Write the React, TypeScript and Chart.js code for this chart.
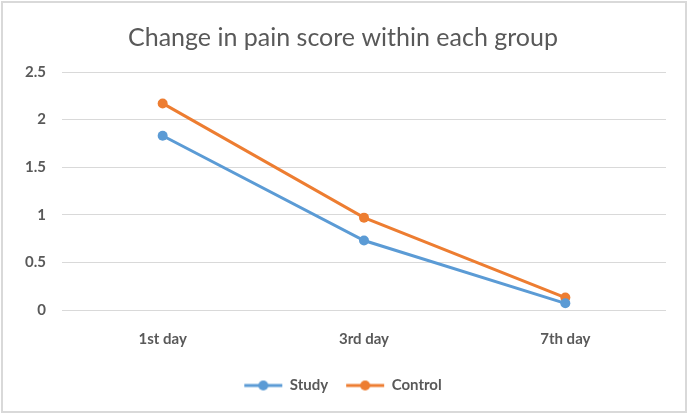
import React, { useEffect, useRef } from "react";
import { Chart, registerables } from "chart.js";

Chart.register(...registerables);

const categories = ["1st day", "3rd day", "7th day"];
const studyValues = [1.83, 0.73, 0.07];
const controlValues = [2.17, 0.97, 0.13];
const seriesNames = ["Study", "Control"];
const seriesColors = ["#5B9BD5", "#ED7D31"];
const titleText = "Change in pain score within each group";

const FONT = "Lato, 'Liberation Sans', sans-serif";
const TEXT = "#595959";

function legendIcon(color: string): HTMLCanvasElement {
  const c = document.createElement("canvas");
  c.width = 40;
  c.height = 12;
  const ctx = c.getContext("2d")!;
  ctx.strokeStyle = color;
  ctx.lineWidth = 3;
  ctx.beginPath();
  ctx.moveTo(1, 6);
  ctx.lineTo(39, 6);
  ctx.stroke();
  ctx.fillStyle = color;
  ctx.beginPath();
  ctx.arc(20, 6, 5, 0, Math.PI * 2);
  ctx.fill();
  return c;
}

const borderPlugin = {
  id: "outerBorder",
  afterDraw(chart: any) {
    const ctx = chart.ctx;
    ctx.save();
    ctx.strokeStyle = "#d9d9d9";
    ctx.lineWidth = 2;
    ctx.strokeRect(2, 2, chart.width - 4, chart.height - 5);
    ctx.restore();
  },
};

export default function App() {
  const ref = useRef<HTMLCanvasElement | null>(null);
  useEffect(() => {
    document.body.style.margin = "0";
    const icons = seriesColors.map(legendIcon);
    const chart = new Chart(ref.current!, {
      type: "line",
      data: {
        labels: categories,
        datasets: [
          {
            label: seriesNames[0],
            data: studyValues,
            borderColor: seriesColors[0],
            backgroundColor: seriesColors[0],
            borderWidth: 3,
            pointRadius: 5,
            pointBackgroundColor: seriesColors[0],
            pointBorderWidth: 0,
          },
          {
            label: seriesNames[1],
            data: controlValues,
            borderColor: seriesColors[1],
            backgroundColor: seriesColors[1],
            borderWidth: 3,
            pointRadius: 5,
            pointBackgroundColor: seriesColors[1],
            pointBorderWidth: 0,
          },
        ],
      },
      options: {
        animation: false,
        responsive: false,
        devicePixelRatio: 1,
        layout: { padding: { left: 20, right: 22, top: 8, bottom: 12 } },
        plugins: {
          title: {
            display: true,
            text: titleText,
            color: TEXT,
            font: { family: FONT, size: 25, weight: "normal" },
            padding: { top: 15, bottom: 19 },
          },
          legend: {
            position: "bottom",
            labels: {
              color: TEXT,
              font: { family: FONT, size: 15, weight: "bold" },
              usePointStyle: true,
              pointStyleWidth: 38,
              boxHeight: 12,
              padding: 18,
              generateLabels(ch: any) {
                const items = Chart.defaults.plugins.legend.labels.generateLabels(ch);
                return items.map((it: any, i: number) => ({ ...it, pointStyle: icons[i] }));
              },
            },
          },
          tooltip: { enabled: false },
        },
        scales: {
          x: {
            offset: true,
            grid: { display: false },
            border: { display: false },
            ticks: {
              color: TEXT,
              font: { family: FONT, size: 15, weight: "bold" },
              padding: 12,
            },
          },
          y: {
            min: 0,
            max: 2.5,
            grid: { color: "#d9d9d9", lineWidth: 1, drawTicks: false },
            border: { display: false },
            ticks: {
              stepSize: 0.5,
              color: TEXT,
              font: { family: FONT, size: 15, weight: "bold" },
              padding: 16,
              callback: (v: any) => String(Number(v)),
            },
            afterFit(scale: any) {
              scale.width = 42;
            },
          },
        },
      },
      plugins: [borderPlugin],
    });
    return () => chart.destroy();
  }, []);
  return (
    <div style={{ width: 688, height: 415 }}>
      <canvas ref={ref} width={688} height={415} style={{ display: "block" }} />
    </div>
  );
}
